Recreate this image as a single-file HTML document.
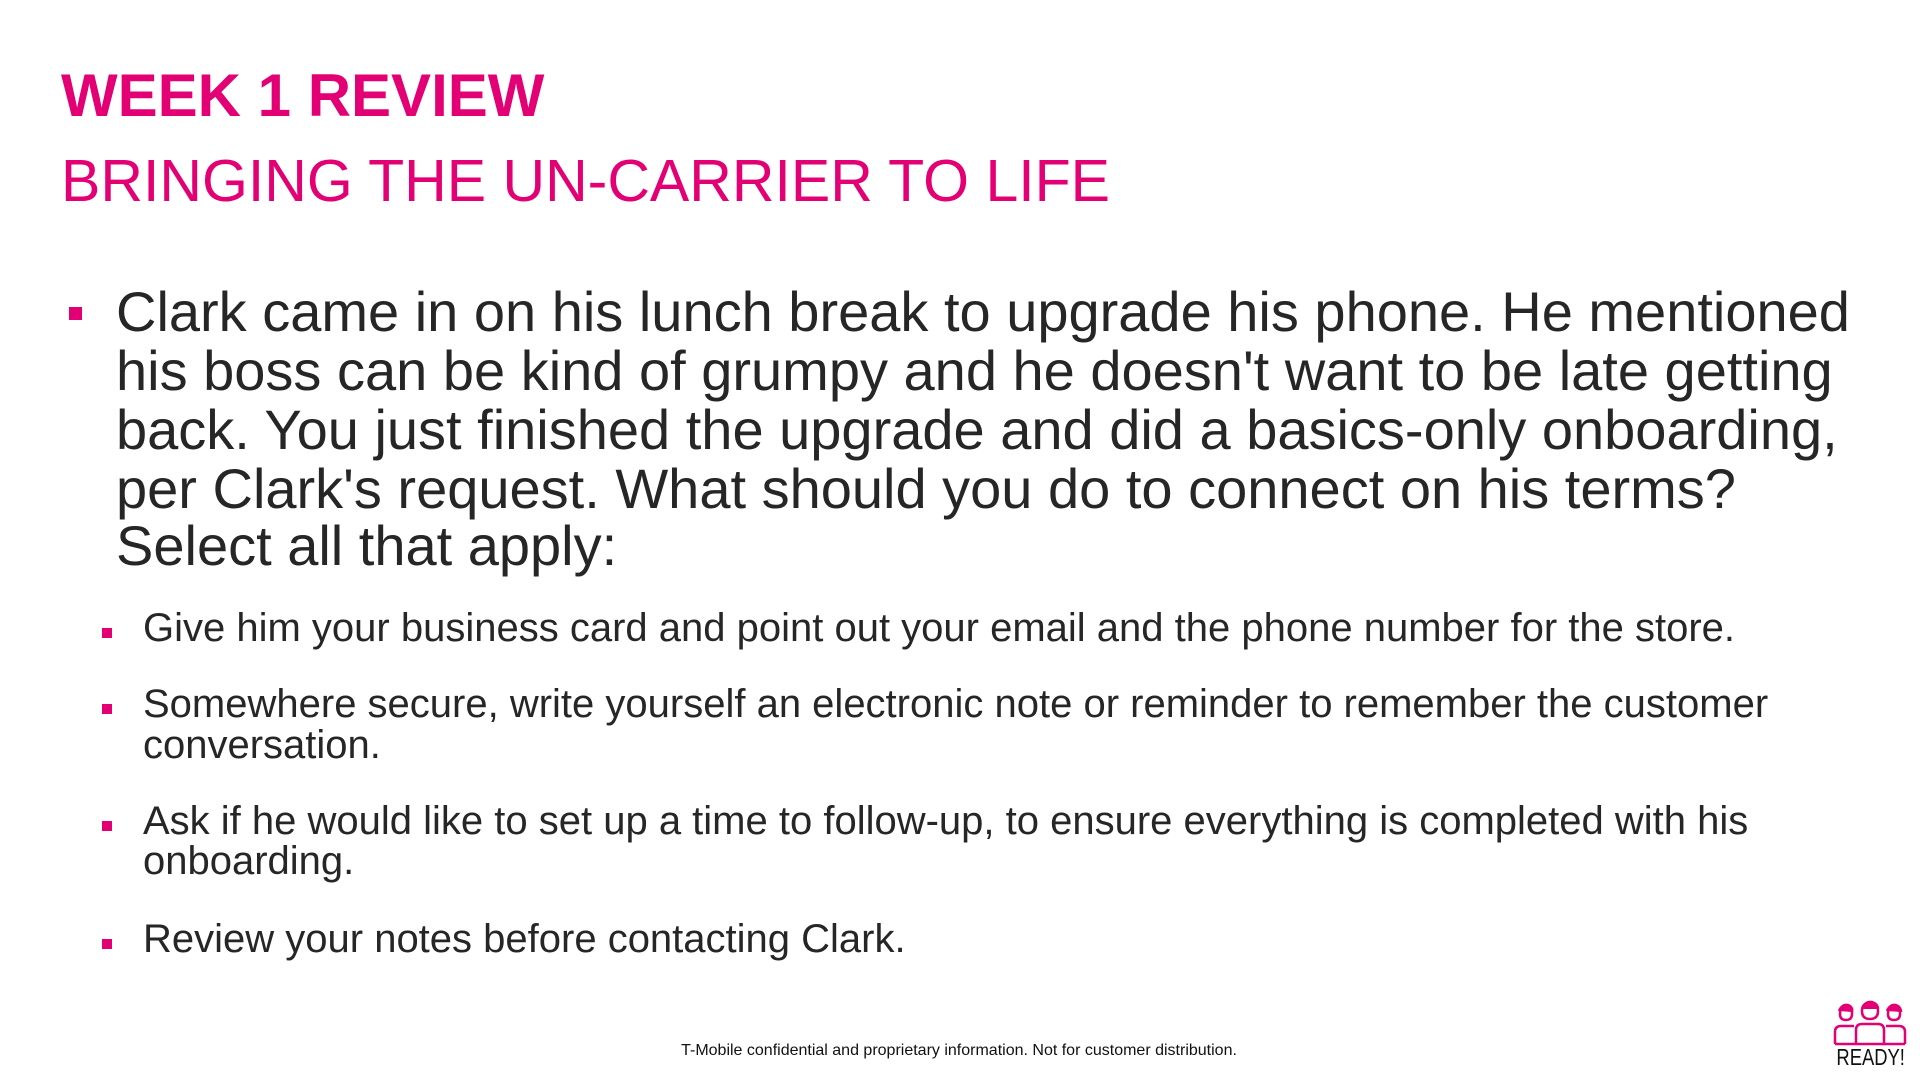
<!DOCTYPE html>
<html><head><meta charset="utf-8"><style>
html,body{margin:0;padding:0;background:#fff;}
body{width:1920px;height:1080px;position:relative;overflow:hidden;font-family:"Liberation Sans",Arial,sans-serif;}
.t{position:absolute;white-space:nowrap;}
.title{left:61px;top:66px;font-size:60px;line-height:60px;font-weight:bold;color:#e20074;}
.sub{left:61px;top:152px;font-size:59px;line-height:59px;color:#e20074;}
.m{left:116px;font-size:56px;line-height:56px;color:#262626;}
.s{left:143px;font-size:40px;line-height:40px;color:#262626;}
.sq{position:absolute;background:#e20074;}
.foot{left:0;width:1918px;text-align:center;top:1043px;font-size:16px;line-height:16px;color:#111;}
</style></head><body>
<div class="t title">WEEK 1 REVIEW</div>
<div class="t sub">BRINGING THE UN-CARRIER TO LIFE</div>

<div class="sq" style="left:69px;top:307px;width:13px;height:13px"></div>
<div>
<div class="t m" style="top:284px">Clark came in on his lunch break to upgrade his phone. He mentioned</div>
<div class="t m" style="top:343px">his boss can be kind of grumpy and he doesn't want to be late getting</div>
<div class="t m" style="top:402px">back. You just finished the upgrade and did a basics-only onboarding,</div>
<div class="t m" style="top:461px">per Clark's request. What should you do to connect on his terms?</div>
<div class="t m" style="top:518px">Select all that apply:</div>
</div>

<div class="sq" style="left:102px;top:628px;width:10px;height:10px"></div>
<div class="t s" style="top:608px">Give him your business card and point out your email and the phone number for the store.</div>

<div class="sq" style="left:102px;top:704px;width:10px;height:10px"></div>
<div>
<div class="t s" style="top:684px">Somewhere secure, write yourself an electronic note or reminder to remember the customer</div>
<div class="t s" style="top:725px">conversation.</div>
</div>

<div class="sq" style="left:102px;top:821px;width:10px;height:10px"></div>
<div>
<div class="t s" style="top:801px">Ask if he would like to set up a time to follow-up, to ensure everything is completed with his</div>
<div class="t s" style="top:841px">onboarding.</div>
</div>

<div class="sq" style="left:102px;top:939px;width:10px;height:10px"></div>
<div class="t s" style="top:919px">Review your notes before contacting Clark.</div>

<div class="t foot">T-Mobile confidential and proprietary information. Not for customer distribution.</div>

<div style="position:absolute;left:1832px;top:1000px;width:76px;height:70px;">
<svg width="76" height="46" viewBox="0 0 76 46" style="position:absolute;left:0;top:0" fill="none" stroke="#e20074" stroke-width="2.5">
<path d="M8 14 Q8 6 14 6 Q20 6 20 14 Q20 20 14 20 Q8 20 8 14" />
<path d="M7 11 Q10 4 16 5 Q21 7 20 12" fill="#e20074"/>
<path d="M30 11 Q30 3 38 3 Q46 3 46 11 Q46 19 38 19 Q30 19 30 11"/>
<path d="M30 9 Q33 1 40 2 Q46 4 46 9" fill="#e20074"/>
<path d="M56 14 Q56 6 62 6 Q68 6 68 14 Q68 20 62 20 Q56 20 56 14"/>
<path d="M55 11 Q58 4 64 5 Q69 7 69 12" fill="#e20074"/>
<path d="M3 44 V32 Q3 26 9 26 H22"/>
<path d="M24 44 V30 Q24 24 30 24 H46 Q52 24 52 30 V44 H24"/>
<path d="M73 44 V32 Q73 26 67 26 H54"/>
<path d="M3 44 H24 M52 44 H73"/>
</svg>
<div style="position:absolute;left:-4px;top:46px;width:84px;text-align:center;font-size:23px;line-height:22px;color:#111;transform:scaleX(0.8);">READY!</div>
</div>
</body></html>
